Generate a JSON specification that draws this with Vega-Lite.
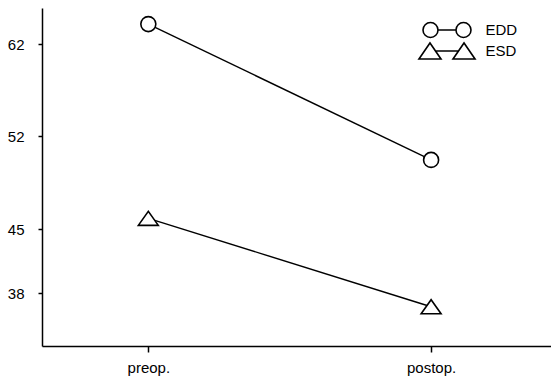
{
  "$schema": "https://vega.github.io/schema/vega-lite/v6.json",
  "width": 509,
  "height": 338,
  "autosize": {"type": "none"},
  "padding": {"left": 42, "top": 8, "right": 0, "bottom": 30},
  "background": "white",
  "config": {
    "view": {"stroke": null},
    "font": "Liberation Sans",
    "axis": {"grid": false, "domainColor": "black", "domainWidth": 1.5, "tickColor": "black", "tickWidth": 1.5, "labelColor": "black", "labelFontSize": 15, "title": null, "labelFont": "Liberation Sans"}
  },
  "data": {
    "values": [
      {"time": "preop.", "series": "EDD", "value": 64.1},
      {"time": "postop.", "series": "EDD", "value": 50.2},
      {"time": "preop.", "series": "ESD", "value": 45.8},
      {"time": "postop.", "series": "ESD", "value": 36.5}
    ]
  },
  "encoding": {
    "x": {
      "field": "time", "type": "ordinal", "sort": ["preop.", "postop."],
      "scale": {"type": "point", "padding": 0.4, "align": 0.47},
      "axis": {"labelAngle": 0, "tickSize": 6, "labelPadding": 8}
    },
    "y": {
      "field": "value", "type": "quantitative",
      "scale": {"type": "linear", "domain": [32.2, 38, 45, 52, 62, 65.8], "range": [338, 285, 221, 128, 36, 0], "nice": false, "zero": false, "clamp": false},
      "axis": {"values": [38, 45, 52, 62], "tickSize": 4, "labelPadding": 14}
    }
  },
  "resolve": {"scale": {"shape": "independent"}, "legend": {"shape": "independent"}},
  "layer": [
    {
      "mark": {"type": "line", "color": "black", "strokeWidth": 1.4},
      "encoding": {"detail": {"field": "series"}}
    },
    {
      "mark": {"type": "point", "filled": false, "color": "black", "fill": "white", "fillOpacity": 1, "strokeWidth": 1.6, "size": 225, "opacity": 1},
      "encoding": {
        "shape": {
          "field": "series", "type": "nominal",
          "scale": {"domain": ["EDD", "ESD"], "range": ["circle", "M-1.33,0.93L0,-0.93L1.33,0.93Z"]},
          "legend": null
        }
      }
    },
    {
      "mark": {"type": "point", "filled": false, "color": "black", "strokeWidth": 1.6, "size": 225, "opacity": 0},
      "encoding": {
        "shape": {
          "field": "series", "type": "nominal",
          "scale": {"domain": ["EDD", "ESD"], "range": ["M-1.2,0A1,1,0,1,1,-3.2,0A1,1,0,1,1,-1.2,0M-1.2,0L1.2,0M3.2,0A1,1,0,1,1,1.2,0A1,1,0,1,1,3.2,0", "M-3.74,1.07L-2.27,-1.07L-0.8,1.07ZM-1.535,0L1.535,0M0.8,1.07L2.27,-1.07L3.74,1.07Z"]},
          "legend": {
            "title": null,
            "orient": "none",
            "legendX": 396.5,
            "legendY": 13.5,
            "padding": 0,
            "labelOffset": 30,
            "labelFontSize": 15,
            "labelColor": "black",
            "labelFont": "Liberation Sans",
            "rowPadding": -2,
            "symbolStrokeWidth": 1.6,
            "symbolStrokeColor": "black",
            "symbolFillColor": "transparent",
            "symbolSize": 225,
            "symbolOpacity": 1
          }
        }
      }
    }
  ]
}
